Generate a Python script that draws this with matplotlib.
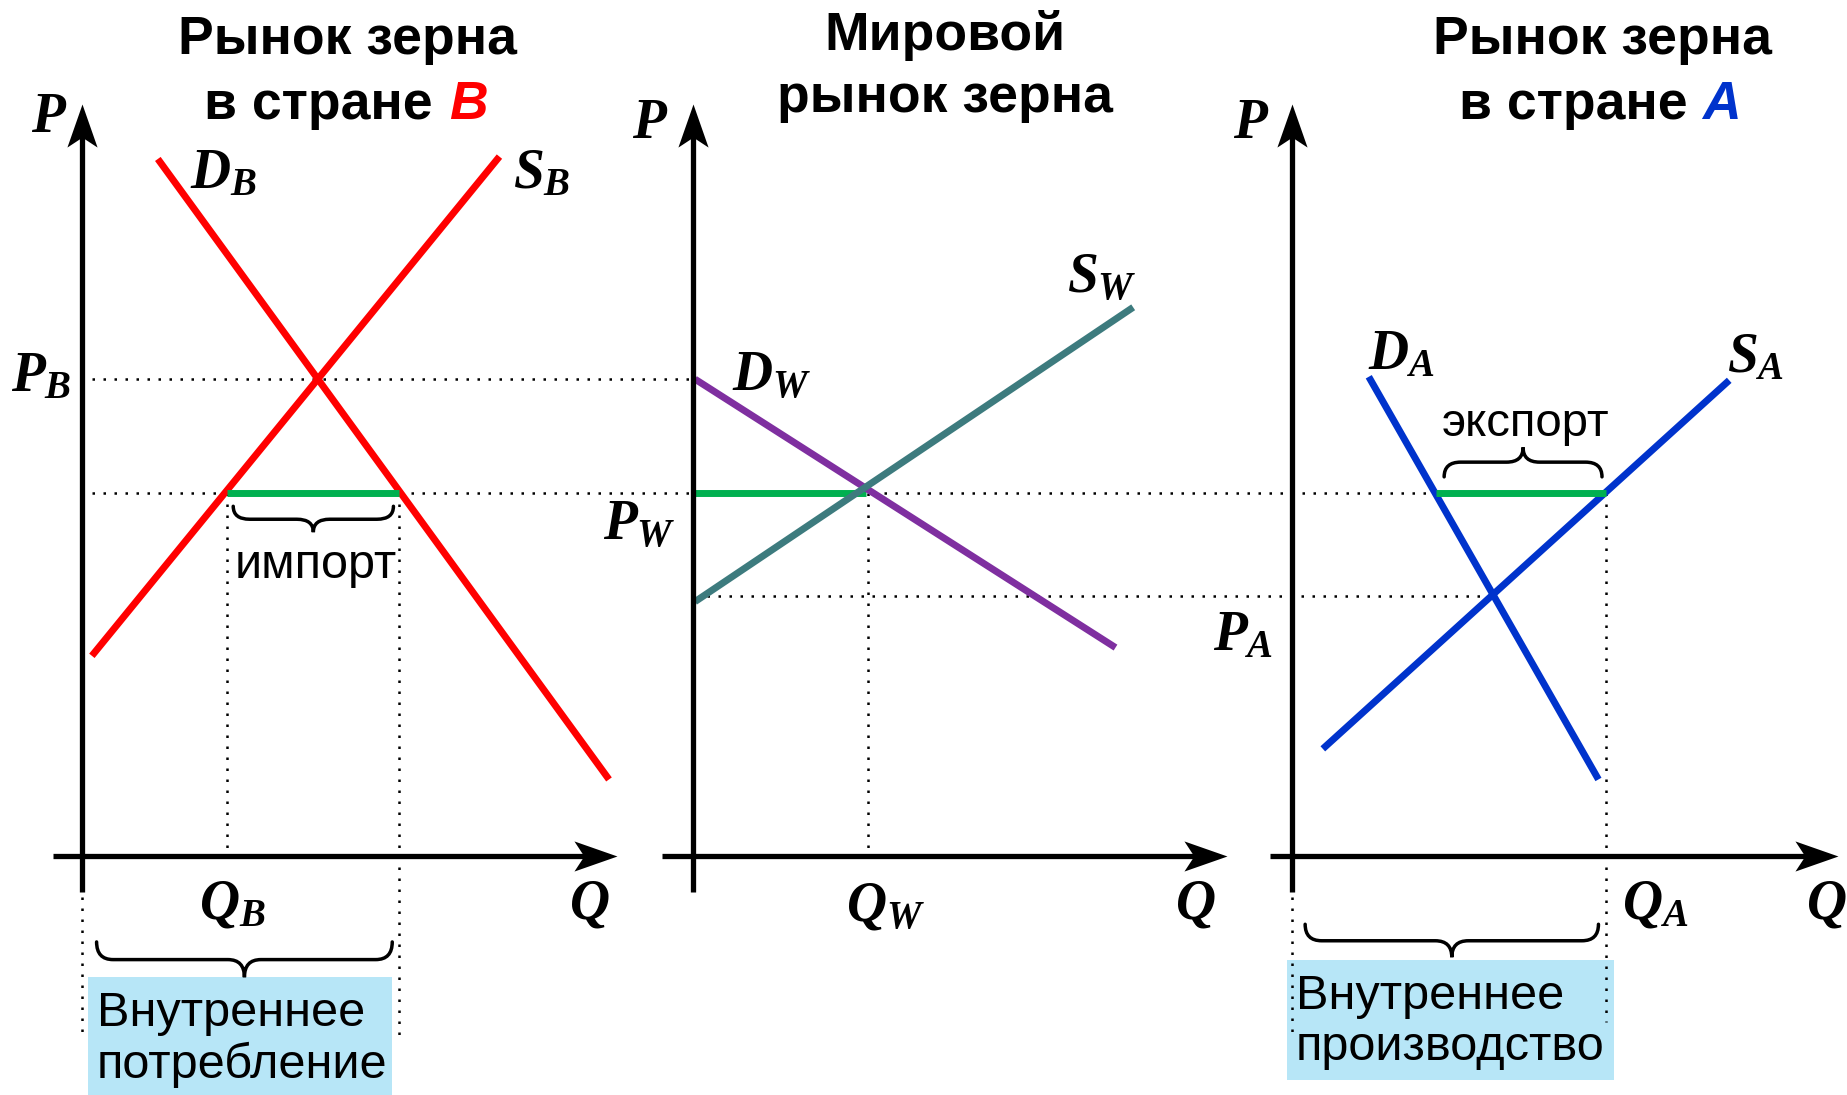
import numpy as np
import matplotlib
matplotlib.use('Agg')
import matplotlib.pyplot as plt
from matplotlib.path import Path
from matplotlib.patches import PathPatch, Rectangle

plt.rcParams['font.family'] = ['Liberation Sans', 'DejaVu Sans']
plt.rcParams['mathtext.fontset'] = 'custom'
plt.rcParams['mathtext.it'] = 'Liberation Serif:italic:bold'
plt.rcParams['mathtext.rm'] = 'Liberation Serif:bold'
plt.rcParams['mathtext.bf'] = 'Liberation Serif:italic:bold'

# ---------------- data (diagram coordinates, y grows downward) ----------------
origin_x = [70, 588, 1097]          # P-axis positions of the three panels
axis_y = 727                        # Q-axis level
axis_top = 88
axis_bottom = 758
axis_left = [45, 562, 1078]
axis_right = [524, 1042, 1560]

DB_x, DB_y = [134, 517], [135, 662]
SB_x, SB_y = [78, 424], [557, 133]
DW_x, DW_y = [590, 947], [322, 550]
SW_x, SW_y = [590, 962], [511, 261]
DA_x, DA_y = [1162, 1357], [320, 662]
SA_x, SA_y = [1123, 1468], [636, 323]

P_B, P_W, P_A = 322, 419, 506
import_x = [193, 339]
export_x = [1219, 1363]
Q_W = 737

titles = [("Рынок зерна", "в стране", "B", 295, 367, 381, "#FF0000"),
          ("Рынок зерна", "в стране", "A", 1360, 1433, 1445, "#0033CC")]
title_mid = ["Мировой", "рынок зерна"]

labels = [("$P$", 42, 100), ("$P$", 552, 105), ("$P$", 1062, 105),
          ("$D_B$", 190, 148), ("$S_B$", 460, 148), ("$P_B$", 35, 320),
          ("$Q_B$", 197, 768), ("$Q$", 500, 768),
          ("$D_W$", 655, 320), ("$S_W$", 935, 237), ("$P_W$", 543, 447),
          ("$Q_W$", 752, 770), ("$Q$", 1015, 768),
          ("$D_A$", 1190, 302), ("$S_A$", 1490, 304), ("$P_A$", 1055, 540),
          ("$Q_A$", 1405, 768), ("$Q$", 1550, 768)]

RED, PURPLE, TEAL, BLUE, GREEN = '#FF0000', '#7F2FA0', '#3D7B7E', '#0033CC', '#00B050'
BOXC = '#B7E6F7'

fig = plt.figure(figsize=(18.47, 10.95), dpi=100)
ax = fig.add_axes([0, 0, 1, 1])
ax.set_xlim(0, 1568)
ax.set_ylim(930, 0)
ax.axis('off')

dot = dict(color='black', lw=1.8, linestyle=(0, (1, 3.4)), zorder=1)

# dotted guides
ax.plot([78, 590], [P_B, P_B], **dot)
ax.plot([78, export_x[0]], [P_W, P_W], **dot)
ax.plot([600, 1265], [P_A, P_A], **dot)
ax.plot([import_x[0]] * 2, [P_W, axis_y], **dot)
ax.plot([import_x[1]] * 2, [P_W, 880], **dot)
ax.plot([origin_x[0]] * 2, [762, 880], **dot)
ax.plot([Q_W] * 2, [P_W, axis_y], **dot)
ax.plot([export_x[1]] * 2, [P_W, 868], **dot)
ax.plot([origin_x[2]] * 2, [762, 880], **dot)

# boxes
ax.add_patch(Rectangle((75, 830), 258, 100, color=BOXC, zorder=0.5, lw=0))
ax.add_patch(Rectangle((1093, 815), 277, 102, color=BOXC, zorder=0.5, lw=0))

# arrowhead markers (stealth shape), tip at the marker anchor
head_up = Path([(0, 0), (0.35, -1), (0, -0.77), (-0.35, -1), (0, 0)],
               [Path.MOVETO, Path.LINETO, Path.LINETO, Path.LINETO, Path.CLOSEPOLY])
head_right = Path([(0, 0), (-1, 0.35), (-0.77, 0), (-1, -0.35), (0, 0)],
                  [Path.MOVETO, Path.LINETO, Path.LINETO, Path.LINETO, Path.CLOSEPOLY])

for i in range(3):
    ax.plot([origin_x[i]] * 2, [axis_bottom, axis_top + 25], color='black', lw=3.8,
            solid_capstyle='butt', zorder=3)
    ax.plot([origin_x[i]], [axis_top], marker=head_up, ms=62, color='black',
            markeredgewidth=0, zorder=3)
    ax.plot([axis_left[i], axis_right[i] - 25], [axis_y] * 2, color='black', lw=3.8,
            solid_capstyle='butt', zorder=3)
    ax.plot([axis_right[i]], [axis_y], marker=head_right, ms=62, color='black',
            markeredgewidth=0, zorder=3)

# curves
lw = 5.0
ax.plot(DB_x, DB_y, color=RED, lw=lw, solid_capstyle='butt', zorder=2)
ax.plot(SB_x, SB_y, color=RED, lw=lw, solid_capstyle='butt', zorder=2)
ax.plot(DW_x, DW_y, color=PURPLE, lw=lw, solid_capstyle='butt', zorder=2)
ax.plot(SW_x, SW_y, color=TEAL, lw=lw, solid_capstyle='butt', zorder=2)
ax.plot(DA_x, DA_y, color=BLUE, lw=lw, solid_capstyle='butt', zorder=2)
ax.plot(SA_x, SA_y, color=BLUE, lw=lw, solid_capstyle='butt', zorder=2)

# green trade segments
ax.plot(import_x, [P_W, P_W], color=GREEN, lw=lw, solid_capstyle='butt', zorder=2.5)
ax.plot([origin_x[1] + 2, Q_W - 2], [P_W, P_W], color=GREEN, lw=lw, solid_capstyle='butt', zorder=1.8)
ax.plot(export_x, [P_W, P_W], color=GREEN, lw=lw, solid_capstyle='butt', zorder=2.5)


def brace(x0, x1, y0, h, lw=2.5):
    """Curly brace from x0 to x1, ends at y0, tip at y0 + h (h may be negative)."""
    xm = (x0 + x1) / 2
    r = min(14, (x1 - x0) / 6)
    yh = y0 + h / 2
    verts = [(x0, y0), (x0, yh), (x0 + r, yh), (xm - r, yh), (xm, yh), (xm, y0 + h),
             (xm, yh), (xm + r, yh), (x1 - r, yh), (x1, yh), (x1, y0)]
    codes = [Path.MOVETO, Path.CURVE3, Path.CURVE3, Path.LINETO, Path.CURVE3, Path.CURVE3,
             Path.CURVE3, Path.CURVE3, Path.LINETO, Path.CURVE3, Path.CURVE3]
    ax.add_patch(PathPatch(Path(verts, codes), fill=False, lw=lw, color='black',
                           capstyle='round', zorder=3))


brace(198, 334, 430, 22)
brace(82, 333, 800, 30)
brace(1226, 1360, 405, -25)
brace(1108, 1357, 785, 28)

ax.text(268, 480, "импорт", fontsize=35, ha='center', va='center', zorder=4)
ax.text(1295, 360, "экспорт", fontsize=34, ha='center', va='center', zorder=4)
ax.text(82, 883, "Внутреннее\nпотребление", fontsize=35, ha='left', va='center',
        linespacing=1.15, zorder=4)
ax.text(1100, 868, "Внутреннее\nпроизводство", fontsize=35, ha='left', va='center',
        linespacing=1.15, zorder=4)

# titles
TS = 38.5
for l1, l2, letter, cx, x_end, x_let, col in titles:
    ax.text(cx, 34, l1, fontsize=TS, fontweight='bold', ha='center', va='center')
    ax.text(x_end, 89, l2, fontsize=TS, fontweight='bold', ha='right', va='center')
    ax.text(x_let, 89, letter, fontsize=TS, fontweight='bold', style='italic',
            color=col, ha='left', va='center')
ax.text(802, 30, title_mid[0], fontsize=TS, fontweight='bold', ha='center', va='center')
ax.text(802, 83, title_mid[1], fontsize=TS, fontweight='bold', ha='center', va='center')

for s, x, y in labels:
    ax.text(x, y, s, fontsize=40, ha='center', va='center', zorder=4)

fig.savefig('out.png', dpi=100, facecolor='white')
